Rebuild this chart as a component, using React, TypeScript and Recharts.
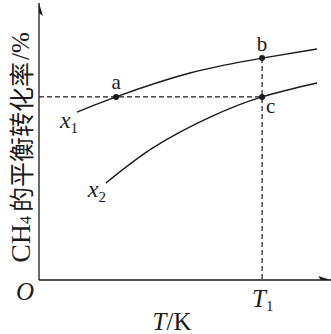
import { ComposedChart, Line, XAxis, YAxis, ReferenceLine, ReferenceDot, Scatter } from "recharts";

// CH4 equilibrium conversion (%) vs temperature, two feed ratios x1 / x2
const curveX1 = [
	{ t: 13.0, v: 60.6 },
	{ t: 26.4, v: 66.1 },
	{ t: 51.7, v: 74.7 },
	{ t: 76.4, v: 80.1 },
	{ t: 95.2, v: 83.4 },
];
const curveX2 = [
	{ t: 22.9, v: 35.0 },
	{ t: 39.0, v: 47.7 },
	{ t: 58.6, v: 58.8 },
	{ t: 76.4, v: 66.1 },
	{ t: 95.2, v: 71.1 },
];
const points = [
	{ name: "a", t: 26.4, v: 66.1 },
	{ name: "b", t: 76.4, v: 80.1 },
	{ name: "c", t: 76.4, v: 66.1 },
];
const T1 = 76.4;
const xTicks = [T1];
const arrowHeads = [
	{ t: 0, v: 100, dir: "up" },
	{ t: 100, v: 0, dir: "right" },
];

const serif = "'Liberation Serif', 'DejaVu Serif', serif";
const cjk = "'Noto Sans CJK SC', sans-serif";
const ink = "#1a1a1a";

const labelPos: Record<string, { dx: number; dy: number; anchor: "start" | "middle" | "end" }> = {
	a: { dx: 0, dy: -8, anchor: "middle" },
	b: { dx: 0, dy: -7, anchor: "middle" },
	c: { dx: 4, dy: 16, anchor: "start" },
};

const PointShape = (props: any) => {
	const { cx, cy, payload } = props;
	const p = labelPos[payload.name];
	return (
		<g>
			<circle cx={cx} cy={cy} r={3} fill={ink} />
			<text x={cx + p.dx} y={cy + p.dy} textAnchor={p.anchor} fontFamily={serif} fontSize={21} fill={ink}>
				{payload.name}
			</text>
		</g>
	);
};

const ArrowShape = (props: any) => {
	const { cx, cy, payload } = props;
	const d =
		payload.dir === "up"
			? `M${cx},${cy} L${cx - 4},${cy + 13} L${cx},${cy + 10} L${cx + 4},${cy + 13} Z`
			: `M${cx},${cy} L${cx - 13},${cy - 4} L${cx - 10},${cy} L${cx - 13},${cy + 4} Z`;
	return <path d={d} fill={ink} />;
};

const curveLabel = (sub: string, dx: number, dy: number) => (props: any) => (
	<text x={props.cx + dx} y={props.cy + dy} fontFamily={serif} fontSize={24} fill={ink}>
		<tspan fontStyle="italic">x</tspan>
		<tspan fontSize={15} dy={5}>
			{sub}
		</tspan>
	</text>
);

const originLabel = (props: any) => (
	<text x={props.cx - 14} y={props.cy + 20} textAnchor="middle" fontFamily={serif} fontSize={25} fontStyle="italic" fill={ink}>
		O
	</text>
);

const TempTick = (props: any) => (
	<text x={props.x - 10} y={props.y + 27} fontFamily={serif} fontSize={25} fill={ink}>
		<tspan fontStyle="italic">T</tspan>
		<tspan fontSize={15} dy={4}>
			1
		</tspan>
	</text>
);

const XLabel = (props: any) => {
	const { x, y, width } = props.viewBox;
	return (
		<text x={x + width / 2 - 13} y={y + 50} textAnchor="middle" fontFamily={serif} fontSize={25} fill={ink}>
			<tspan fontStyle="italic">T</tspan>
			<tspan>/K</tspan>
		</text>
	);
};

const YLabel = (props: any) => {
	const { y, height } = props.viewBox;
	return (
		<text
			transform={`translate(20, ${y + height / 2 + 6}) rotate(-90)`}
			textAnchor="middle"
			dominantBaseline="central"
			fill={ink}
		>
			<tspan fontFamily={serif} fontSize={28}>CH</tspan>
			<tspan fontFamily={serif} fontSize={16} dy={5}>4</tspan>
			<tspan fontFamily={cjk} fontSize={25} dy={-5} dx={4}>的平衡转化率</tspan>
			<tspan fontFamily={serif} fontSize={25} dx={2}>/%</tspan>
		</text>
	);
};

const App = () => {
	return (
		<div style={{ position: "absolute", left: 0, top: 0, background: "#fff" }}>
			<ComposedChart width={331} height={334} margin={{ top: 3, right: 0, left: 0, bottom: 0 }}>
				<XAxis
					dataKey="t"
					type="number"
					domain={[0, 100]}
					ticks={xTicks}
					height={54}
					tickLine={false}
					tickSize={0}
					tickMargin={0}
					tick={<TempTick />}
					axisLine={{ stroke: ink, strokeWidth: 1.3 }}
					label={<XLabel />}
					allowDataOverflow
				/>
				<YAxis
					type="number"
					domain={[0, 100]}
					width={39}
					tick={false}
					tickLine={false}
					axisLine={{ stroke: ink, strokeWidth: 1.3 }}
					label={<YLabel />}
					allowDataOverflow
				/>
				<ReferenceLine
					segment={[
						{ x: 0, y: points[2].v },
						{ x: points[2].t, y: points[2].v },
					]}
					stroke={ink}
					strokeWidth={1.2}
					strokeDasharray="5 3"
				/>
				<ReferenceLine
					segment={[
						{ x: T1, y: points[1].v },
						{ x: T1, y: 0 },
					]}
					stroke={ink}
					strokeWidth={1.2}
					strokeDasharray="5 3"
				/>
				<Line data={curveX1} dataKey="v" type="natural" stroke={ink} strokeWidth={1.5} dot={false} isAnimationActive={false} />
				<Line data={curveX2} dataKey="v" type="natural" stroke={ink} strokeWidth={1.5} dot={false} isAnimationActive={false} />
				<Scatter data={points} dataKey="v" shape={<PointShape />} isAnimationActive={false} />
				<Scatter data={arrowHeads} dataKey="v" shape={<ArrowShape />} isAnimationActive={false} />
				<ReferenceDot x={curveX1[0].t} y={curveX1[0].v} r={0} shape={curveLabel("1", -17, 16)} />
				<ReferenceDot x={curveX2[0].t} y={curveX2[0].v} r={0} shape={curveLabel("2", -18, 14)} />
				<ReferenceDot x={0} y={0} r={0} shape={originLabel} />
			</ComposedChart>
		</div>
	);
};

export default App;
